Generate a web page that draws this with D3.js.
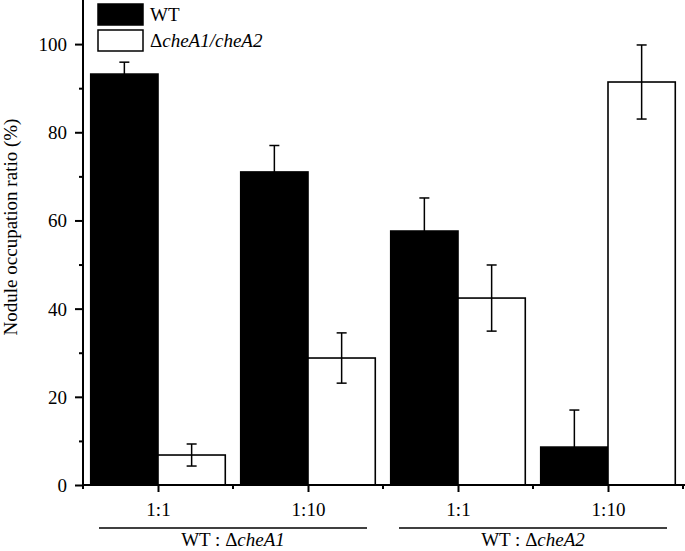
<!DOCTYPE html>
<html><head><meta charset="utf-8">
<script src="https://cdn.jsdelivr.net/npm/d3@7"></script>
<style>body{margin:0;background:#fff}svg{display:block}text{font-family:"Liberation Serif","Times New Roman",serif;fill:#000}</style>
</head><body><svg id="c" width="685" height="551"></svg>
<script>
const categories = ["1:1","1:10","1:1","1:10"];
const groups = [{label:"WT : ", mut:"cheA1", from:0, to:1},{label:"WT : ", mut:"cheA2", from:2, to:3}];
const seriesNames = ["WT","ΔcheA1/cheA2"];
const wtValues = [93.2, 71.0, 57.6, 8.6];
const wtErrors = [2.7, 6.0, 7.5, 8.4];
const mutValues = [6.8, 28.8, 42.4, 91.4];
const mutErrors = [2.5, 5.7, 7.5, 8.4];
const yTicks = [0,20,40,60,80,100];
const yMinor = [10,30,50,70,90];

const FS = 19;
const svg = d3.select("#c");
const L=83, R=683, T=0, B=485;
const y = d3.scaleLinear().domain([0,110]).range([B,T]);
const x = d3.scaleBand().domain(d3.range(categories.length)).range([L,R]).paddingInner(0).paddingOuter(0);
const inner = d3.scaleBand().domain([0,1]).range([0,x.bandwidth()]).paddingOuter(0.1148).paddingInner(0);

const series = [
 {vals:wtValues, errs:wtErrors, fill:"#000"},
 {vals:mutValues, errs:mutErrors, fill:"#fff"}
];
series.forEach((s,si)=>{
  const g = svg.append("g");
  g.selectAll("rect").data(s.vals).join("rect")
   .attr("x",(d,i)=>x(i)+inner(si)).attr("width",inner.bandwidth())
   .attr("y",d=>y(d)).attr("height",d=>B-y(d))
   .attr("fill",s.fill).attr("stroke","#000").attr("stroke-width",1.6);
  const cx=(i)=>x(i)+inner(si)+inner.bandwidth()/2;
  const eg = svg.append("g").attr("stroke","#000").attr("stroke-width",1.5);
  s.vals.forEach((v,i)=>{
    eg.append("line").attr("x1",cx(i)).attr("x2",cx(i)).attr("y1",y(v+s.errs[i])).attr("y2",y(v-s.errs[i]));
    eg.append("line").attr("x1",cx(i)-5).attr("x2",cx(i)+5).attr("y1",y(v+s.errs[i])).attr("y2",y(v+s.errs[i]));
    eg.append("line").attr("x1",cx(i)-5).attr("x2",cx(i)+5).attr("y1",y(v-s.errs[i])).attr("y2",y(v-s.errs[i]));
  });
});

// y axis
const yAxis = svg.append("g").attr("transform",`translate(${L},0)`)
  .call(d3.axisLeft(y).tickValues(yTicks).tickSize(8).tickPadding(8));
yAxis.select(".domain").attr("d",`M0,${T}V${B+1}`).attr("stroke-width",2);
yAxis.selectAll(".tick line").attr("stroke-width",2);
yAxis.selectAll(".tick text").attr("font-size",FS).attr("dy","0.34em");
svg.append("g").attr("transform",`translate(${L},0)`)
  .call(d3.axisLeft(y).tickValues(yMinor).tickSize(4).tickFormat(""))
  .call(g=>g.select(".domain").remove()).selectAll("line").attr("stroke-width",2);

// x axis
const xc = d3.scalePoint().domain(d3.range(categories.length)).range([L+x.bandwidth()/2, R-x.bandwidth()/2]);
const xAxis = svg.append("g").attr("transform",`translate(0,${B})`)
  .call(d3.axisBottom(xc).tickSize(7).tickPadding(11).tickFormat(i=>categories[i]));
xAxis.select(".domain").attr("d",`M${L-1},0H${R+2}`).attr("stroke-width",2);
xAxis.selectAll(".tick line").attr("stroke-width",2);
xAxis.selectAll(".tick text").attr("font-size",FS);
const bounds = d3.range(categories.length+1).map(i=>L+i*x.bandwidth());
svg.append("g").selectAll("line").data(bounds).join("line")
  .attr("x1",d=>d).attr("x2",d=>d).attr("y1",B).attr("y2",B+4).attr("stroke","#000").attr("stroke-width",2);

// group labels
groups.forEach(gr=>{
  const x0 = x(gr.from)+16, x1 = x(gr.to)+x.bandwidth()-16;
  svg.append("line").attr("x1",x0).attr("x2",x1).attr("y1",528).attr("y2",528).attr("stroke","#000").attr("stroke-width",1.3);
  const t = svg.append("text").attr("x",(x0+x1)/2).attr("y",546).attr("text-anchor","middle").attr("font-size",FS);
  t.append("tspan").text(gr.label+"Δ");
  t.append("tspan").attr("font-style","italic").text(gr.mut);
});

// y label
svg.append("text").attr("transform","translate(17,227) rotate(-90)").attr("text-anchor","middle")
  .attr("font-size",FS).text("Nodule occupation ratio (%)");

// legend
const lg = svg.append("g");
lg.append("rect").attr("x",98).attr("y",4).attr("width",45).attr("height",21).attr("fill","#000").attr("stroke","#000").attr("stroke-width",1.5);
lg.append("rect").attr("x",98).attr("y",30).attr("width",45).attr("height",21).attr("fill","#fff").attr("stroke","#000").attr("stroke-width",1.5);
lg.append("text").attr("x",150).attr("y",21).attr("font-size",FS).text(seriesNames[0]);
const lt = lg.append("text").attr("x",150).attr("y",47).attr("font-size",FS);
lt.append("tspan").text("Δ");
lt.append("tspan").attr("font-style","italic").text(seriesNames[1].slice(1));
</script></body></html>
